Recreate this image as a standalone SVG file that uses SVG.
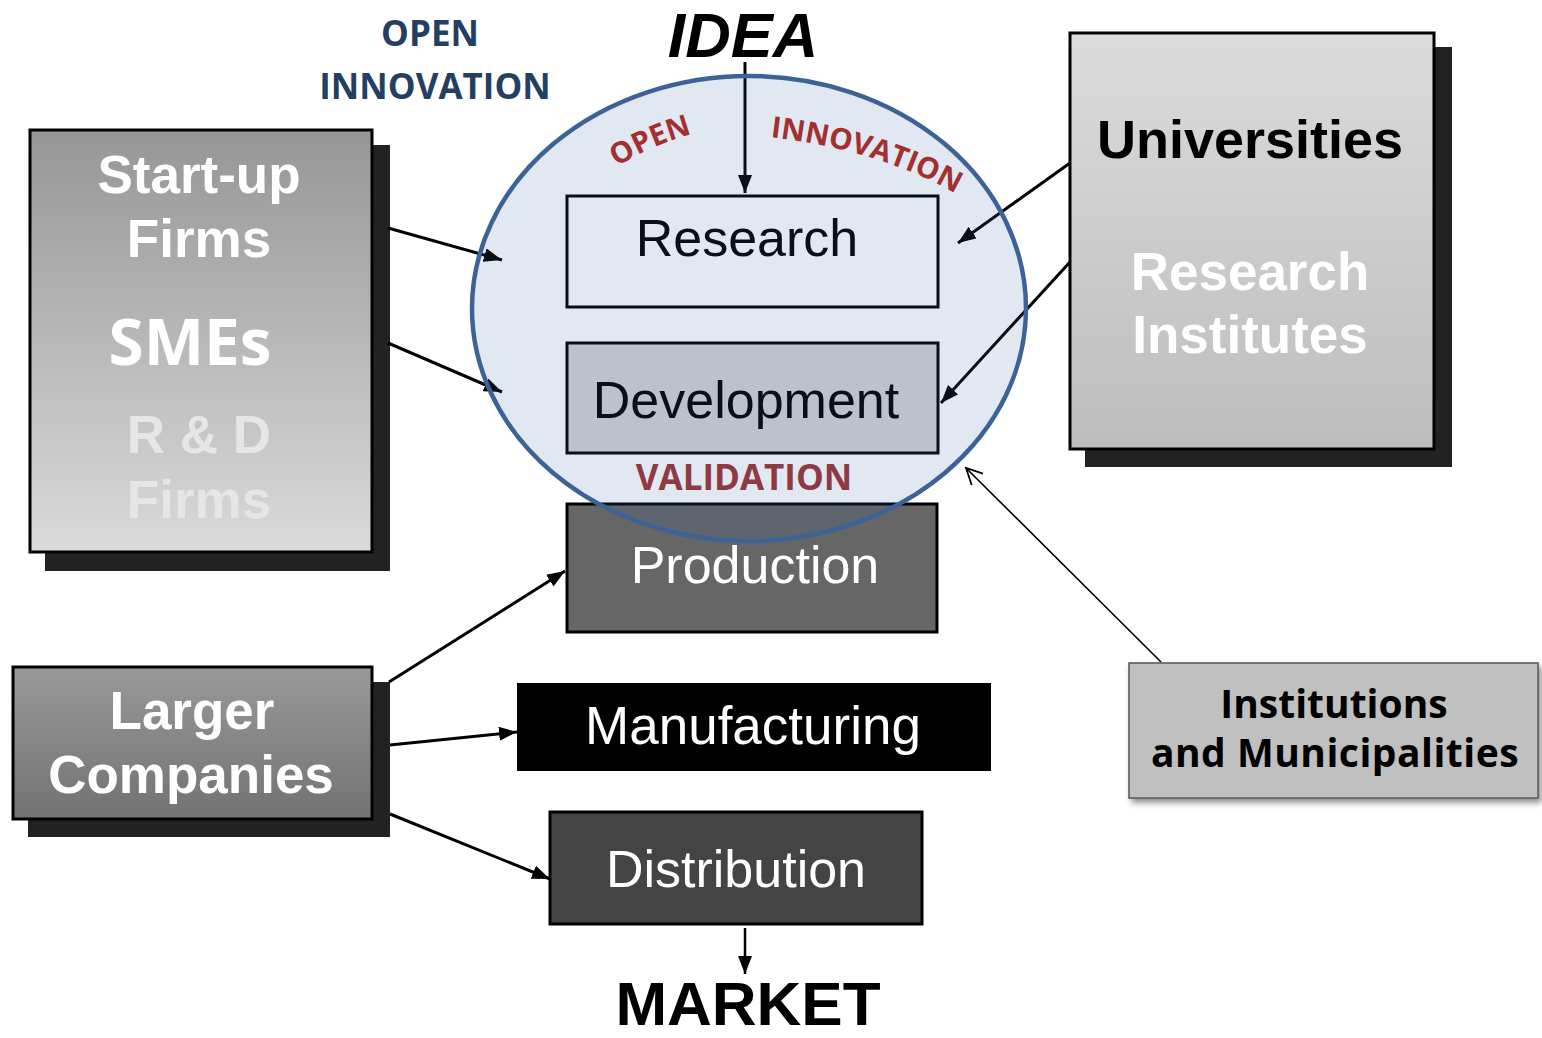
<svg xmlns="http://www.w3.org/2000/svg" width="1542" height="1038" viewBox="0 0 1542 1038">
<defs>
<style>
.ar{font-family:"Liberation Sans",Arial,sans-serif;}
.bd{font-family:"Liberation Sans",Arial,sans-serif;font-weight:bold;}
.ca{font-family:"Open Sans","Liberation Sans",sans-serif;font-weight:bold;}
.conn{stroke:#000;stroke-width:3;fill:none;marker-end:url(#ah);}
.shadow{fill:#222;}
</style>
<linearGradient id="gStart" x1="0" y1="0" x2="0" y2="1">
<stop offset="0" stop-color="#969696"/>
<stop offset="1" stop-color="#dadada"/>
</linearGradient>
<linearGradient id="gUni" x1="0" y1="0" x2="0" y2="1">
<stop offset="0" stop-color="#dbdbdb"/>
<stop offset="1" stop-color="#bdbdbd"/>
</linearGradient>
<linearGradient id="gLarge" x1="0" y1="0" x2="0" y2="1">
<stop offset="0" stop-color="#999"/>
<stop offset="1" stop-color="#727272"/>
</linearGradient>
<marker id="ah" markerUnits="userSpaceOnUse" markerWidth="20" markerHeight="16" refX="18" refY="7" orient="auto">
<path d="M0,0 L18,7 L0,14 Z" fill="#000"/>
</marker>
<marker id="ao" markerUnits="userSpaceOnUse" markerWidth="20" markerHeight="20" refX="18" refY="9" orient="auto">
<path d="M2,1 L18,9 L2,17" fill="none" stroke="#000" stroke-width="1.8"/>
</marker>
<filter id="ds" x="-10%" y="-10%" width="125%" height="135%">
<feDropShadow dx="3" dy="4" stdDeviation="3" flood-color="#000" flood-opacity="0.45"/>
</filter>
<path id="pOpen" d="M617,167 Q656,142 704,131"/>
<path id="pInno" d="M770,137 Q880,150 958,195"/>
</defs>
<rect width="1542" height="1038" fill="#fff"/>

<g id="startup">
<rect class="shadow" x="45" y="145" width="345" height="426"/>
<rect x="30" y="130" width="342" height="422" fill="url(#gStart)" stroke="#000" stroke-width="3"/>
<text class="bd" x="199" y="193" font-size="53" fill="#fff" text-anchor="middle">Start-up</text>
<text class="bd" x="199" y="257" font-size="53" fill="#fff" text-anchor="middle">Firms</text>
<text class="ca" x="190" y="365" font-size="64" fill="#fff" text-anchor="middle">SMEs</text>
<text class="bd" x="199" y="453" font-size="53" fill="#e6e6e6" text-anchor="middle">R &amp; D</text>
<text class="bd" x="199" y="518" font-size="53" fill="#e6e6e6" text-anchor="middle">Firms</text>
</g>

<g id="universities">
<rect class="shadow" x="1085" y="47" width="367" height="420"/>
<rect x="1070" y="33" width="364" height="416" fill="url(#gUni)" stroke="#000" stroke-width="3"/>
<text class="bd" x="1250" y="158" font-size="54" fill="#000" text-anchor="middle">Universities</text>
<text class="bd" x="1250" y="290" font-size="53" fill="#fff" text-anchor="middle">Research</text>
<text class="bd" x="1250" y="353" font-size="53" fill="#fff" text-anchor="middle">Institutes</text>
</g>

<g id="larger">
<rect class="shadow" x="28" y="682" width="362" height="155"/>
<rect x="13" y="667" width="359" height="152" fill="url(#gLarge)" stroke="#000" stroke-width="3"/>
<text class="bd" x="192" y="729" font-size="53" fill="#fff" text-anchor="middle">Larger</text>
<text class="bd" x="191" y="793" font-size="53" fill="#fff" text-anchor="middle">Companies</text>
</g>

<g id="institutions">
<rect x="1129" y="663" width="409" height="135" fill="#c0c0c0" stroke="#555" stroke-width="1.5" filter="url(#ds)"/>
<text class="ca" x="1334" y="718" font-size="39" fill="#000" text-anchor="middle">Institutions</text>
<text class="ca" x="1335" y="767" font-size="39" fill="#000" text-anchor="middle" letter-spacing="0.5">and Municipalities</text>
</g>

<g id="research">
<rect x="567" y="196" width="371" height="111" fill="#fff" stroke="#000" stroke-width="3"/>
<text class="ar" x="747" y="256" font-size="52" fill="#000" text-anchor="middle">Research</text>
</g>

<g id="development">
<rect x="567" y="343" width="371" height="110" fill="#d3d3d3" stroke="#000" stroke-width="3"/>
<text class="ar" x="746" y="418" font-size="52" fill="#000" text-anchor="middle">Development</text>
</g>

<g id="production">
<rect x="567" y="504" width="370" height="128" fill="#666" stroke="#000" stroke-width="3"/>
<text class="ar" x="755" y="583" font-size="52" fill="#fff" text-anchor="middle">Production</text>
</g>

<g id="manufacturing">
<rect x="517" y="683" width="474" height="88" fill="#000"/>
<text class="ar" x="753" y="744" font-size="53" fill="#fff" text-anchor="middle">Manufacturing</text>
</g>

<g id="distribution">
<rect x="550" y="812" width="372" height="112" fill="#444" stroke="#000" stroke-width="3"/>
<text class="ar" x="736" y="887" font-size="52" fill="#fff" text-anchor="middle">Distribution</text>
</g>

<g id="connectors">
<line class="conn" x1="745" y1="62" x2="745" y2="193"/>
<line class="conn" x1="388" y1="228" x2="502" y2="260"/>
<line class="conn" x1="388" y1="343" x2="502" y2="392"/>
<line class="conn" x1="1070" y1="163" x2="958" y2="243"/>
<line class="conn" x1="1070" y1="262" x2="941" y2="403"/>
<line class="conn" x1="389" y1="682" x2="565" y2="571"/>
<line class="conn" x1="390" y1="745" x2="517" y2="732"/>
<line class="conn" x1="390" y1="814" x2="550" y2="879"/>
<line x1="745" y1="928" x2="745" y2="974" stroke="#000" stroke-width="2.5" marker-end="url(#ah)"/>
<line x1="1161" y1="662" x2="966" y2="468" stroke="#000" stroke-width="1.6" marker-end="url(#ao)"/>
</g>

<g id="openinnovation-circle">
<ellipse cx="749" cy="308.5" rx="277" ry="232.5" fill="#3766a9" fill-opacity="0.15" stroke="#3d6396" stroke-width="4.5"/>
<text class="ca" font-size="29.5" fill="#a3302f"><textPath href="#pOpen">OPEN</textPath></text>
<text class="ca" font-size="29.5" fill="#a3302f"><textPath href="#pInno">INNOVATION</textPath></text>
<text class="ca" x="744" y="490" font-size="35" fill="#8e3a44" text-anchor="middle">VALIDATION</text>
</g>

<g id="labels">
<text class="ca" x="430" y="46" font-size="35" fill="#253f62" text-anchor="middle">OPEN</text>
<text class="ca" x="435" y="99" font-size="35" fill="#253f62" text-anchor="middle">INNOVATION</text>
<text class="bd" x="743" y="57" font-size="63" font-style="italic" fill="#000" text-anchor="middle">IDEA</text>
<text class="bd" x="748" y="1025" font-size="62" fill="#000" text-anchor="middle">MARKET</text>
</g>
</svg>
